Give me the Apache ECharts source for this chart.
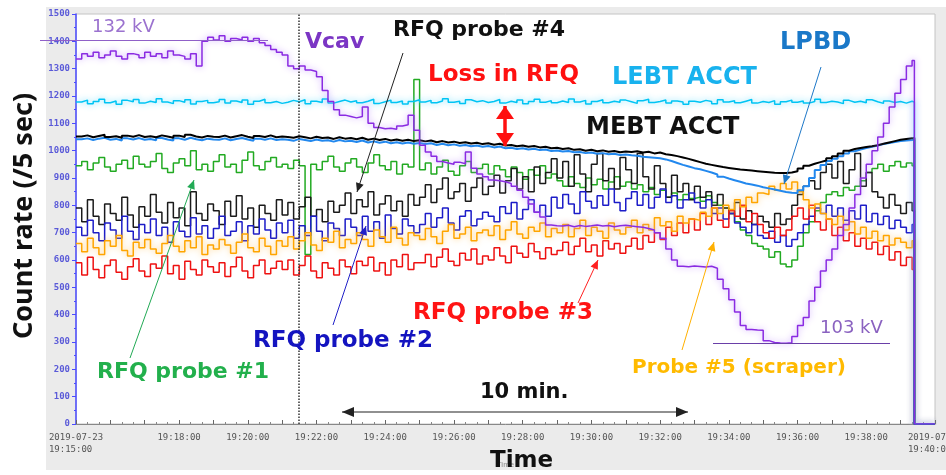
<!DOCTYPE html>
<html>
<head>
<meta charset="utf-8">
<title>RFQ probes / ACCT count rate</title>
<script src="https://cdn.jsdelivr.net/npm/echarts/dist/echarts.min.js"></script>
<style>
  html, body { margin: 0; padding: 0; background: #fff; }
  #chart { width: 946px; height: 475px; }
</style>
</head>
<body>
<div id="chart"></div>
<script>
// time axis in minutes after 2019-07-23 19:15:00, one sample every 10 s
const sampleStep = 1 / 6;
const dropTime = 24.4;     // beam off, every trace falls to 0
const endTime = 25;
const cursorTime = 6.47;   // dotted cursor line

// RFQ probe #1 (green)
const probe1 = [
  945, 960, 930, 955, 975, 940, 925, 950, 965, 935, 980, 950,
  940, 960, 990, 935, 920, 955, 970, 945, 1000, 930, 950, 925,
  960, 985, 940, 950, 920, 965, 995, 945, 930, 960, 975, 940,
  950, 935, 965, 945, 620, 950, 930, 960, 980, 940, 925, 955,
  970, 940, 920, 955, 985, 945, 930, 960, 915, 950, 940, 1260,
  930, 955, 915, 940, 965, 925, 910, 945, 960, 920, 935, 950,
  915, 945, 930, 905, 940, 920, 895, 930, 910, 945, 900, 915,
  890, 870, 905, 880, 865, 900, 875, 895, 860, 885, 905, 870,
  885, 860, 875, 850, 865, 840, 855, 830, 845, 820, 840, 825,
  830, 815, 835, 810, 800, 790, 770, 740, 710, 690, 660, 650,
  640, 610, 630, 585, 575, 600, 650, 700, 740, 780, 810, 840,
  850, 835, 865, 855, 870, 890, 920, 935, 950, 925, 945, 960,
  940, 955, 945
];

// RFQ probe #4 (black, noisy)
const probe4 = [
  790, 740, 820, 760, 730, 805, 770, 745, 830, 765, 720, 795,
  760, 840, 775, 735, 810, 755, 790, 725, 850, 770, 745, 805,
  780, 730, 815, 760, 835, 750, 790, 720, 800, 770, 745, 820,
  765, 810, 750, 795, 830, 760, 785, 740, 815, 775, 800, 845,
  770, 820, 795, 850, 765, 805, 835, 780, 815, 760, 840, 800,
  830, 875, 810, 860, 900, 825, 850, 880, 815, 865, 900, 840,
  870, 910, 845, 890, 935, 860, 905, 850, 940, 880, 920, 970,
  900, 960, 870, 985, 915, 850, 950, 990, 890, 935, 860, 975,
  930, 880, 990, 905, 860, 945, 880, 830, 910, 850, 880, 820,
  870, 830, 850, 800, 840, 790, 770, 810, 750, 780, 730, 760,
  740, 720, 770, 730, 750, 800, 840, 870, 890, 860, 920, 950,
  900, 960, 880, 930, 990, 870, 920, 850, 830, 790, 840, 800,
  770, 810, 780
];

// RFQ probe #2 (blue)
const probe2 = [
  720, 690, 745, 700, 670, 735, 710, 680, 760, 705, 675, 730,
  700, 750, 690, 720, 665, 740, 705, 685, 755, 695, 725, 680,
  715, 760, 690, 705, 740, 670, 725, 695, 750, 710, 680, 735,
  700, 745, 680, 725, 690, 760, 705, 670, 735, 715, 690, 750,
  720, 690, 760, 705, 740, 680, 765, 715, 695, 750, 725, 700,
  730, 770, 720, 755, 790, 735, 710, 760, 780, 725, 750, 775,
  760, 740, 795, 770, 810, 750, 785, 820, 775, 800, 760, 830,
  790, 840, 805, 770, 850, 815, 790, 835, 800, 860, 810, 780,
  825, 850, 800, 840, 790, 830, 860, 810, 835, 790, 820, 845,
  810, 790, 820, 770, 790, 750, 770, 735, 720, 700, 730, 690,
  680, 705, 665, 690, 650, 675, 700, 730, 760, 790, 770, 800,
  760, 790, 745, 780, 750, 800, 740, 770, 730, 760, 715, 745,
  720, 700, 730
];

// RFQ probe #3 (red)
const probe3 = [
  590, 545, 610, 565, 535, 580, 600, 555, 530, 575, 605, 560,
  540, 585, 570, 615, 550, 580, 530, 595, 565, 545, 600, 575,
  555, 590, 540, 575, 610, 560, 535, 580, 600, 550, 570, 595,
  565, 600, 545, 580, 615, 560, 535, 590, 570, 545, 600, 575,
  550, 595, 580, 610, 560, 590, 545, 600, 575, 620, 565, 590,
  590, 620, 575, 610, 640, 595, 580, 625, 600, 640, 585, 615,
  600, 645, 615, 590, 650, 625, 610, 660, 630, 605, 645, 620,
  635, 665, 620, 650, 680, 630, 655, 615, 670, 640, 660, 625,
  650, 680, 640, 690, 665, 700, 675, 720, 690, 735, 700, 750,
  710, 770, 730, 790, 745, 720, 780, 760, 800, 740, 770, 730,
  700, 680, 720, 690, 710, 760, 790, 750, 800, 740, 710, 750,
  690, 720, 670, 700, 650, 680, 640, 665, 620, 650, 600, 630,
  580, 610, 565
];

// Probe #5, scraper (orange)
const probe5 = [
  660, 630, 680, 645, 620, 670, 650, 690, 635, 615, 665, 645,
  675, 640, 625, 660, 690, 650, 630, 670, 645, 685, 620, 655,
  640, 675, 655, 625, 665, 695, 645, 630, 680, 650, 620, 670,
  650, 685, 640, 670, 700, 655, 635, 680, 665, 705, 645, 675,
  660, 700, 675, 650, 710, 685, 665, 720, 680, 655, 700, 690,
  675, 715, 685, 660, 705, 730, 680, 695, 720, 670, 700, 710,
  690, 725, 675, 710, 740, 695, 680, 720, 705, 735, 685, 715,
  700, 730, 685, 715, 745, 690, 720, 705, 680, 735, 710, 695,
  720, 745, 700, 730, 710, 755, 725, 740, 705, 760, 735, 750,
  745, 775, 760, 790, 770, 800, 785, 820, 795, 830, 810, 845,
  840, 870, 855, 880, 860, 885, 850, 820, 790, 805, 770, 750,
  730, 760, 710, 740, 695, 720, 680, 705, 670, 690, 655, 680,
  665, 645, 670
];

// LEBT ACCT (light blue)
const lebtAcct = [
  1178, 1185, 1172, 1180, 1188, 1175, 1182, 1170, 1184, 1179, 1187, 1174,
  1181, 1176, 1190, 1178, 1172, 1183, 1177, 1186, 1171, 1180, 1184, 1175,
  1179, 1187, 1174, 1182, 1176, 1185, 1170, 1181, 1188, 1175, 1180, 1173,
  1177, 1184, 1179, 1186, 1172, 1181, 1176, 1189, 1174, 1180, 1185, 1178,
  1183, 1175, 1181, 1188, 1173, 1179, 1185, 1176, 1182, 1171, 1180, 1186,
  1178, 1184, 1175, 1182, 1190, 1177, 1181, 1173, 1186, 1179, 1183, 1176,
  1180, 1187, 1174, 1181, 1176, 1185, 1172, 1180, 1188, 1177, 1183, 1175,
  1182, 1176, 1189, 1178, 1184, 1171, 1180, 1186, 1175, 1181, 1177, 1185,
  1179, 1173, 1183, 1188, 1176, 1180, 1185, 1174, 1182, 1178, 1170, 1181,
  1177, 1184, 1180, 1172, 1186, 1178, 1183, 1175, 1181, 1187, 1174, 1180,
  1176, 1183, 1170, 1179, 1185, 1177, 1182, 1174, 1180, 1188, 1176, 1181,
  1178, 1172, 1184, 1177, 1181, 1175, 1186, 1179, 1173, 1182, 1176, 1180,
  1174, 1181, 1177
];

// MEBT ACCT (black, smooth)
const mebtAcct = [
  1052, 1056, 1049, 1054, 1058, 1050, 1053, 1047, 1055, 1051, 1057, 1050,
  1053, 1049, 1056, 1052, 1047, 1055, 1050, 1058, 1052, 1048, 1054, 1051,
  1050, 1055, 1048, 1053, 1057, 1051, 1046, 1054, 1050, 1056, 1049, 1052,
  1050, 1047, 1053, 1049, 1045, 1051, 1046, 1048, 1043, 1049, 1044, 1046,
  1042, 1047, 1040, 1044, 1039, 1043, 1037, 1041, 1036, 1040, 1035, 1038,
  1034, 1037, 1031, 1035, 1030, 1033, 1028, 1031, 1026, 1029, 1024, 1027,
  1022, 1025, 1019, 1021, 1016, 1019, 1014, 1017, 1012, 1014, 1009, 1011,
  1006, 1009, 1003, 1005, 1000, 1003, 998, 1001, 996, 999, 994, 997,
  995, 998, 993, 996, 990, 993, 987, 984, 980, 975, 970, 964,
  958, 952, 948, 944, 940, 937, 934, 931, 929, 927, 925, 923,
  921, 919, 918, 918, 920, 925, 935, 945, 952, 958, 964, 972,
  980, 990, 1000, 1006, 1010, 1013, 1016, 1020, 1025, 1030, 1035, 1040,
  1043, 1045, 1047
];

// LPBD (blue, smooth)
const lpbd = [
  1042, 1045, 1039, 1044, 1047, 1040, 1043, 1037, 1045, 1041, 1046, 1040,
  1043, 1038, 1046, 1041, 1037, 1045, 1040, 1047, 1042, 1038, 1044, 1041,
  1040, 1045, 1038, 1043, 1046, 1041, 1036, 1044, 1040, 1045, 1039, 1042,
  1040, 1036, 1043, 1039, 1035, 1041, 1036, 1038, 1033, 1039, 1034, 1036,
  1032, 1037, 1030, 1034, 1029, 1033, 1027, 1031, 1026, 1030, 1025, 1028,
  1024, 1027, 1021, 1025, 1020, 1023, 1018, 1021, 1016, 1019, 1014, 1017,
  1012, 1015, 1009, 1011, 1006, 1009, 1004, 1007, 1002, 1004, 999, 1001,
  997, 999, 994, 995, 991, 993, 989, 991, 987, 989, 984, 986,
  983, 981, 978, 976, 974, 972, 968, 962, 955, 948, 942, 936,
  932, 926, 920, 913, 905, 898, 892, 886, 880, 876, 872, 866,
  862, 858, 853, 849, 846, 845, 855, 870, 900, 929, 948, 962,
  970, 980, 990, 998, 1004, 1010, 1014, 1019, 1024, 1028, 1032, 1035,
  1037, 1039, 1040
];

// Vcav (purple), cavity voltage on the count-rate scale
const vcav = [
  1335, 1355, 1345, 1360, 1340, 1350, 1365, 1345, 1335, 1355, 1350, 1340,
  1360, 1345, 1355, 1340, 1365, 1350, 1345, 1335, 1355, 1310, 1400, 1415,
  1405, 1420, 1400, 1410, 1405, 1415, 1400, 1410, 1395, 1385, 1370, 1360,
  1350, 1310, 1300, 1310, 1295, 1290, 1270, 1220, 1180, 1150, 1130, 1125,
  1120, 1125, 1160, 1100, 1085, 1080, 1082, 1078, 1090, 1095, 1130, 1075,
  1020, 995, 980, 960, 955, 950, 958, 952, 995, 936, 915, 905,
  893, 890, 886, 880, 870, 855, 830, 805, 775, 757, 728, 725,
  724, 727, 722, 726, 723, 725, 728, 724, 726, 722, 725, 727,
  724, 722, 720, 715, 710, 700, 680, 640, 600, 577, 575, 578,
  576, 574, 577, 570, 530, 495, 455, 410, 360, 346, 344, 343,
  305, 298, 296, 295, 297, 320, 360, 390, 450, 500, 560, 600,
  640, 690, 730, 790, 840, 900, 950, 1000, 1050, 1100, 1160, 1210,
  1260, 1310, 1330
];

const startLabel = '2019-07-23\n19:15:00  ';
const endLabel = '2019-07-23\n19:40:00  ';

function timeLabel(m) {
  if (m === 0) return startLabel;
  if (m === 25) return endLabel;
  if (m >= 3 && m % 2 === 1) return '19:' + (15 + m) + ':00';
  return '';
}

function pairs(vals) {
  const out = vals.map((v, i) => [i * sampleStep, v]);
  out.push([dropTime, 0], [endTime, 0]);
  return out;
}

function trace(name, vals, color, width, glow) {
  const s = {
    name: name, type: 'line', step: 'end', symbol: 'none', silent: true,
    data: pairs(vals),
    lineStyle: { color: color, width: width }
  };
  if (glow) {
    s.lineStyle.shadowColor = glow;
    s.lineStyle.shadowBlur = 6;
  }
  return s;
}

function head(x1, y1, x2, y2, color, len, half) {
  const a = Math.atan2(y2 - y1, x2 - x1);
  const bx = x2 - len * Math.cos(a), by = y2 - len * Math.sin(a);
  const px = -Math.sin(a) * half, py = Math.cos(a) * half;
  return {
    type: 'polygon', z: 100,
    shape: { points: [[x2, y2], [bx + px, by + py], [bx - px, by - py]] },
    style: { fill: color }
  };
}

function arrow(x1, y1, x2, y2, color, width, len, half, both) {
  const els = [{
    type: 'line', z: 100,
    shape: { x1: x1, y1: y1, x2: x2, y2: y2 },
    style: { stroke: color, lineWidth: width }
  }];
  els.push(head(x1, y1, x2, y2, color, len, half));
  if (both) els.push(head(x2, y2, x1, y1, color, len, half));
  return els;
}

function note(text, x, y, color, size, bold) {
  return {
    type: 'text', z: 100, x: x, y: y,
    style: {
      text: text, fill: color,
      font: (bold ? 'bold ' : '') + size + 'px "DejaVu Sans"',
      align: 'left', verticalAlign: 'middle',
      textAlign: 'left', textVerticalAlign: 'middle'
    }
  };
}

let graphics = [
  { type: 'rect', z: -1, shape: { x: 46, y: 7, width: 900, height: 463 }, style: { fill: '#ebebeb' } },
  { type: 'line', z: 100, shape: { x1: 40, y1: 40.5, x2: 268, y2: 40.5 }, style: { stroke: '#9060c8', lineWidth: 1 } },
  { type: 'line', z: 100, shape: { x1: 713, y1: 343.5, x2: 890, y2: 343.5 }, style: { stroke: '#6a3fa8', lineWidth: 1 } },
  note('132 kV', 92, 27, '#9b72cf', 18, false),
  note('103 kV', 820, 328, '#8a62c0', 18, false),
  note('Vcav', 305, 42, '#7b35c4', 22, true),
  note('RFQ probe #4', 393, 30, '#111', 22, true),
  note('Loss in RFQ', 428, 75, '#ff1010', 23, true),
  note('LEBT ACCT', 612, 78, '#18b2ee', 24, true),
  note('MEBT ACCT', 586, 128, '#111', 24, true),
  note('LPBD', 780, 43, '#1a78c8', 24, true),
  note('RFQ probe #1', 97, 372, '#22b04c', 22, true),
  note('RFQ probe #2', 253, 341, '#1414c0', 23, true),
  note('RFQ probe #3', 413, 313, '#ff1414', 23, true),
  note('Probe #5 (scraper)', 632, 368, '#ffba00', 20, true),
  note('10 min.', 480, 393, '#111', 21, true),
  note('Time', 490, 461, '#111', 23, true),
  {
    type: 'text', z: 100, x: 24, y: 216, rotation: Math.PI / 2,
    style: {
      text: 'Count rate (/5 sec)', fill: '#111',
      font: 'bold 27px "Noto Sans"',
      align: 'center', verticalAlign: 'middle',
      textAlign: 'center', textVerticalAlign: 'middle'
    }
  }
];
graphics = graphics
  .concat(arrow(403, 53, 357, 192, '#222', 1, 9, 4, false))
  .concat(arrow(821, 67, 784, 184, '#1e78c8', 1, 9, 4, false))
  .concat(arrow(130, 358, 194, 180, '#22aa55', 1, 9, 4, false))
  .concat(arrow(333, 325, 366, 226, '#2020c8', 1, 9, 4, false))
  .concat(arrow(578, 303, 598, 260, '#ff2020', 1, 9, 4, false))
  .concat(arrow(682, 350, 714, 242, '#ffb000', 1, 9, 4, false))
  .concat(arrow(342, 412, 688, 412, '#222', 1.2, 12, 5, true))
  .concat(arrow(505, 106, 505, 146, '#ff1010', 3.5, 13, 9, true));

const chart = echarts.init(document.getElementById('chart'));
chart.setOption({
  animation: false,
  backgroundColor: '#fff',
  grid: {
    left: 76, right: 11, top: 14, bottom: 51,
    containLabel: false, outerBoundsMode: 'none',
    show: true, backgroundColor: '#fff', borderColor: '#c4c4c4', borderWidth: 1
  },
  xAxis: {
    type: 'value', min: 0, max: endTime, interval: 1,
    name: 'Time', nameLocation: 'middle', nameGap: 37,
    nameTextStyle: { color: '#888', fontSize: 8 },
    axisLine: { lineStyle: { color: '#888', width: 1 } },
    axisTick: { inside: true, length: 4, lineStyle: { color: '#666' } },
    minorTick: { show: true, splitNumber: 3, length: 2, lineStyle: { color: '#888' } },
    splitLine: { show: false },
    axisLabel: {
      formatter: timeLabel, color: '#555', fontFamily: 'DejaVu Sans Mono',
      fontSize: 9, margin: 8, lineHeight: 12, showMinLabel: true, showMaxLabel: true,
      hideOverlap: false
    }
  },
  yAxis: {
    type: 'value', min: 0, max: 1500, interval: 100,
    axisLine: { show: true, lineStyle: { color: '#4b4bff', width: 1.5 } },
    axisTick: { show: true, length: 4, lineStyle: { color: '#4b4bff' } },
    minorTick: { show: true, splitNumber: 2, length: 2, lineStyle: { color: '#4b4bff' } },
    splitLine: { show: false },
    axisLabel: {
      formatter: v => String(v),
      color: '#5a5ad8', fontFamily: 'DejaVu Sans Mono', fontSize: 9,
      fontWeight: 'bold', margin: 6
    }
  },
  series: [
    Object.assign(trace('RFQ probe #1', probe1, '#22aa22', 1.5), {
      markLine: {
        silent: true, symbol: 'none', label: { show: false },
        lineStyle: { type: 'dotted', color: '#333', width: 1.5 },
        data: [{ xAxis: cursorTime }]
      }
    }),
    trace('RFQ probe #4', probe4, '#1a1a1a', 1.5),
    trace('RFQ probe #2', probe2, '#1c1cc8', 1.5),
    trace('RFQ probe #3', probe3, '#ee1111', 1.5),
    trace('Probe #5', probe5, '#ffa500', 1.5, 'rgba(255,190,80,0.8)'),
    trace('LPBD', lpbd, '#2288ee', 2),
    trace('MEBT ACCT', mebtAcct, '#000', 2),
    trace('LEBT ACCT', lebtAcct, '#00c4f4', 1.5, 'rgba(90,220,255,0.9)'),
    trace('Vcav', vcav, '#8a2be2', 1.5, 'rgba(190,140,255,0.9)')
  ],
  graphic: graphics
});
</script>
</body>
</html>
